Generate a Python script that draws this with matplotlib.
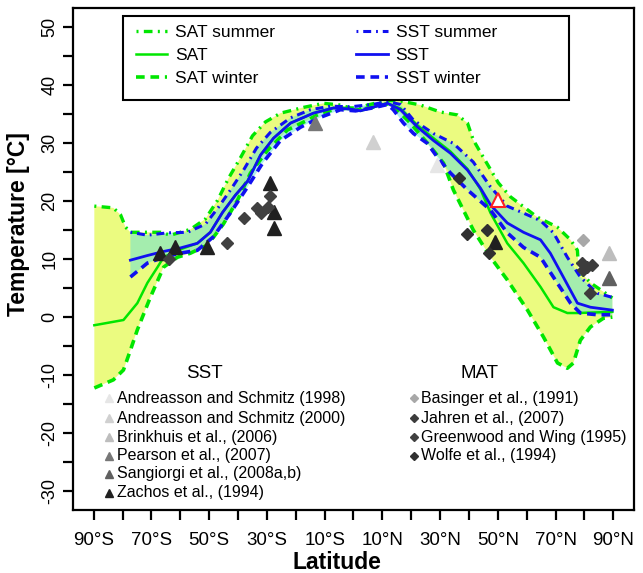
import numpy as np
import matplotlib.pyplot as plt
from matplotlib.lines import Line2D
from matplotlib.patches import Rectangle
from matplotlib.transforms import ScaledTranslation

plt.rcParams['font.family'] = ['Liberation Sans', 'DejaVu Sans']

# ---- model curves (latitude, temperature) ----
sat_summer_lat = [-89.8, -83.2, -80.7, -79.0, -77.3, -71.4, -66.9, -63.4, -56.5, -51.3, -47.1, -43.3,
                  -39.2, -35.0, -30.5, -25.3, -17.3, -10.4, -4.5, -1.1, 2.4, 4.8, 11.8, 16.3, 23.2,
                  30.1, 36.0, 39.5, 41.5, 45.0, 50.2, 54.4, 63.7, 70.6, 75.2, 77.6, 78.0, 82.1, 89.7]
sat_summer_t = [19.1, 18.8, 17.6, 15.5, 14.6, 14.6, 14.6, 14.1, 15.1, 16.9, 20.1, 23.9,
                27.4, 31.2, 33.6, 35.1, 36.1, 36.8, 36.5, 36.0, 36.0, 36.5, 37.3, 37.2, 36.5,
                35.3, 34.8, 33.4, 30.5, 27.5, 23.1, 20.7, 17.2, 15.5, 13.3, 11.5, 8.1, 5.9, 3.3]

sat_lat = [-89.8, -85.3, -79.7, -74.9, -71.4, -67.9, -65.8, -61.0, -54.1, -49.6, -45.4, -40.9,
           -36.7, -32.2, -27.7, -21.8, -13.9, -6.9, -1.1, 2.4, 6.6, 11.8, 16.3, 22.2, 27.7,
           33.6, 39.5, 44.0, 47.5, 53.3, 58.9, 64.8, 69.3, 74.1, 77.6, 89.7]
sat_t = [-1.4, -1.0, -0.5, 2.4, 5.9, 8.6, 10.3, 11.5, 12.7, 14.6, 18.0, 21.0,
         23.4, 27.9, 30.8, 33.4, 35.1, 36.0, 35.8, 35.5, 36.1, 36.8, 35.9, 33.0, 30.8,
         28.5, 25.5, 22.0, 17.9, 12.7, 9.3, 5.2, 1.7, 0.7, 0.7, 0.9]

sat_winter_lat = [-89.8, -83.2, -79.7, -77.3, -74.9, -70.4, -65.8, -61.0, -56.5, -50.6, -45.1, -40.2,
                  -35.7, -29.8, -22.9, -15.9, -11.4, -4.5, 0.7, 6.6, 12.8, 19.7, 26.7, 31.2, 34.6,
                  38.1, 41.5, 47.5, 53.3, 60.3, 65.8, 70.7, 74.1, 76.2, 78.6, 82.1, 86.6, 89.7]
sat_winter_t = [-12.2, -10.8, -9.1, -5.7, -2.2, 3.4, 8.6, 10.3, 11.0, 12.4, 16.0, 20.1,
                24.8, 28.7, 32.2, 33.9, 35.1, 36.0, 35.6, 36.1, 36.8, 33.4, 29.3, 26.5, 21.9,
                18.4, 15.0, 10.3, 6.4, 1.2, -3.4, -7.9, -8.8, -7.9, -4.0, -1.7, -0.2, 0.0]

sst_summer_lat = [-77.3, -71.4, -64.5, -57.5, -51.3, -46.8, -42.6, -38.1, -33.6, -28.8, -21.8, -14.9,
                  -8.0, -1.1, 6.6, 11.8, 16.3, 20.8, 27.7, 34.6, 41.5, 47.5, 53.3, 58.9, 64.8,
                  69.3, 74.1, 78.6, 84.5, 89.7]
sst_summer_t = [14.6, 14.1, 14.5, 14.6, 16.0, 18.9, 21.9, 25.3, 29.1, 31.8, 34.3, 35.7,
                36.3, 36.2, 36.6, 37.1, 36.6, 33.9, 31.6, 29.9, 26.7, 22.4, 19.1, 17.9, 16.6,
                14.5, 10.3, 6.9, 4.1, 3.4]

sst_lat = [-77.3, -71.4, -65.8, -60.0, -54.1, -49.6, -45.4, -40.9, -36.7, -32.2, -27.7, -21.8,
           -13.9, -6.9, -1.1, 2.4, 6.6, 11.8, 16.3, 22.2, 27.7, 33.6, 39.5, 44.0, 47.5,
           53.3, 58.9, 64.8, 68.2, 72.7, 77.6, 82.1, 89.7]
sst_t = [9.8, 10.6, 11.3, 11.9, 12.7, 14.6, 18.0, 21.0, 23.4, 27.9, 30.8, 33.4,
         35.1, 36.0, 35.8, 35.5, 36.1, 36.8, 35.7, 32.7, 30.4, 28.2, 25.3, 22.2, 19.3,
         16.2, 14.6, 13.3, 11.0, 6.9, 2.4, 1.7, 1.2]

sst_winter_lat = [-77.3, -71.4, -65.8, -60.0, -54.1, -48.6, -42.7, -36.7, -31.5, -25.3, -18.3, -11.4,
                  -4.5, 0.7, 6.6, 11.8, 13.8, 17.3, 20.8, 25.6, 29.1, 33.6, 39.5, 47.5, 53.3,
                  58.9, 64.8, 70.7, 75.2, 78.6, 84.5, 89.7]
sst_winter_t = [6.9, 9.3, 10.3, 11.0, 11.5, 13.8, 17.9, 22.4, 26.5, 30.4, 32.7, 34.4,
                35.7, 35.5, 36.0, 36.6, 35.7, 33.4, 31.6, 29.9, 27.5, 24.8, 21.9, 18.4, 14.5,
                12.0, 10.3, 5.8, 2.4, 0.7, 0.4, 0.4]

# ---- proxy data ----
# SST (triangles)
andreasson98 = ([29.1], [26.2])
andreasson00 = ([6.6], [30.1])
brinkhuis = ([88.4], [11.0])
pearson = ([-13.2], [33.4])
sangiorgi = ([88.4], [6.7])
zachos = ([-67.2, -62.0, -50.9, -29.1, -27.7, -27.7, 49.2],
          [11.0, 12.0, 12.0, 23.1, 18.1, 15.3, 12.9])
open_red = ([50.0], [20.1])
# MAT (diamonds)
basinger = ([79.7], [13.3])
jahren = ([79.3, 81.0, 82.8, 79.7, 82.1], [9.3, 8.6, 8.9, 8.1, 4.1])
greenwood = ([-64.1, -43.7, -38.1, -33.3, -32.2, -29.1, -29.5],
             [10.0, 12.7, 17.0, 18.8, 17.9, 20.8, 18.9])
wolfe = ([36.5, 39.2, 46.1, 46.8], [23.9, 14.3, 15.0, 11.0])

sst_sets = [("Andreasson and Schmitz (1998)", andreasson98, "#e6e6e6"),
            ("Andreasson and Schmitz (2000)", andreasson00, "#d0d0d0"),
            ("Brinkhuis et al., (2006)", brinkhuis, "#bdbdbd"),
            ("Pearson et al., (2007)", pearson, "#777777"),
            ("Sangiorgi et al., (2008a,b)", sangiorgi, "#606060"),
            ("Zachos et al., (1994)", zachos, "#202020")]
mat_sets = [("Basinger et al., (1991)", basinger, "#a8a8a8"),
            ("Jahren et al., (2007)", jahren, "#3c3c3c"),
            ("Greenwood and Wing (1995)", greenwood, "#404040"),
            ("Wolfe et al., (1994)", wolfe, "#303030")]

xticks = np.arange(-90, 91, 10)
xlabels = ['90°S', '70°S', '50°S', '30°S', '10°S', '10°N', '30°N', '50°N', '70°N', '90°N']
yticks = np.arange(-30, 51, 5)

green = '#00e600'
blue = '#1010f0'

fig = plt.figure(figsize=(6.43, 5.73), dpi=100)
ax = fig.add_axes([0.1135, 0.110, 0.8725, 0.876])

# fills
ax.fill(np.r_[sat_summer_lat, sat_winter_lat[::-1]], np.r_[sat_summer_t, sat_winter_t[::-1]],
        color='#ebfb80', lw=0, zorder=1)
ax.fill(np.r_[sst_summer_lat, sst_winter_lat[::-1]], np.r_[sst_summer_t, sst_winter_t[::-1]],
        color='#5fe0dc', alpha=0.5, lw=0, zorder=2)

dashdot = (0.6, 1.6, 2.6, 1.6)
dashed = (2.4, 1.6)
ax.plot(sat_summer_lat, sat_summer_t, color=green, lw=2.4, dashes=dashdot, zorder=3, label='SAT summer')
ax.plot(sat_lat, sat_t, color=green, lw=1.8, zorder=3, label='SAT')
ax.plot(sat_winter_lat, sat_winter_t, color=green, lw=2.6, dashes=dashed, zorder=3, label='SAT winter')
ax.plot(sst_summer_lat, sst_summer_t, color=blue, lw=2.2, dashes=dashdot, zorder=4, label='SST summer')
ax.plot(sst_lat, sst_t, color=blue, lw=2.0, zorder=4, label='SST')
ax.plot(sst_winter_lat, sst_winter_t, color=blue, lw=2.6, dashes=dashed, zorder=4, label='SST winter')

# proxies
for name, (x, y), c in sst_sets:
    ax.plot(x, y, ls='none', marker='^', ms=10, color=c, mec=c, zorder=6)
for name, (x, y), c in mat_sets:
    ax.plot(x, y, ls='none', marker='D', ms=6.5, color=c, mec=c, zorder=6)
ax.plot(*open_red, ls='none', marker='^', ms=10, mfc='white', mec='#ff2020', mew=1.5, zorder=7)

ax.set_xlim(-97.2, 97.2)
ax.set_ylim(-33.2, 53.2)

# x ticks every 10 degrees, labels on the odd tens
labs = []
k = 0
for t in xticks:
    if (abs(t) // 10) % 2 == 1:
        labs.append(xlabels[k])
        k += 1
    else:
        labs.append('')
ax.set_xticks(xticks)
ax.set_xticklabels(labs, fontsize=13.5)
for lab in ax.get_xticklabels():
    off = -4 / 72 if lab.get_text() == '10°S' else 0
    lab.set_transform(lab.get_transform() + ScaledTranslation(7 / 100, off, fig.dpi_scale_trans))

ax.set_yticks(yticks)
ax.set_yticklabels([str(t) if t % 10 == 0 else '' for t in yticks], fontsize=13,
                   rotation=90, va='center')
ax.tick_params(length=7, width=1.6, direction='out')
ax.tick_params(axis='x', pad=9)
for s in ax.spines.values():
    s.set_linewidth(1.6)

ax.set_xlabel('Latitude', fontsize=16.5, fontweight='bold', va='center')
ax.xaxis.set_label_coords(0.47, -0.104)
ax.set_ylabel('Temperature [°C]', fontsize=16.5, fontweight='bold', va='center')
ax.yaxis.set_label_coords(-0.098, 0.57)

# top legend for model curves
ax.add_patch(Rectangle((0.089, 0.817), 0.795, 0.167, transform=ax.transAxes, fill=True,
                       facecolor='white', edgecolor='black', lw=1.5, zorder=9))
leg = ax.legend(ncol=2, loc='upper left', bbox_to_anchor=(0.112, 0.967), fontsize=12.5,
                frameon=False, handlelength=1.8, handletextpad=0.45, labelspacing=0.45,
                columnspacing=4.7, borderpad=0, borderaxespad=0)
leg.set_zorder(10)

# bottom proxy legends (drawn as text)
ax.text(0.2335, 0.271, 'SST', transform=ax.transAxes, ha='center', va='center', fontsize=13.5)
ax.text(0.7255, 0.271, 'MAT', transform=ax.transAxes, ha='center', va='center', fontsize=13.5)
rows = [0.223, 0.183, 0.145, 0.108, 0.072, 0.034]
for (name, _, c), yy in zip(sst_sets, rows):
    ax.add_line(Line2D([0.064], [yy], transform=ax.transAxes, ls='none', marker='^', ms=6,
                       color=c, mec=c, zorder=8))
    ax.text(0.078, yy, name, transform=ax.transAxes, va='center', fontsize=11.5)
for (name, _, c), yy in zip(mat_sets, rows):
    ax.add_line(Line2D([0.607], [yy], transform=ax.transAxes, ls='none', marker='D', ms=4,
                       color=c, mec=c, zorder=8))
    ax.text(0.620, yy, name, transform=ax.transAxes, va='center', fontsize=11.5)

fig.savefig('out.png', dpi=100)
